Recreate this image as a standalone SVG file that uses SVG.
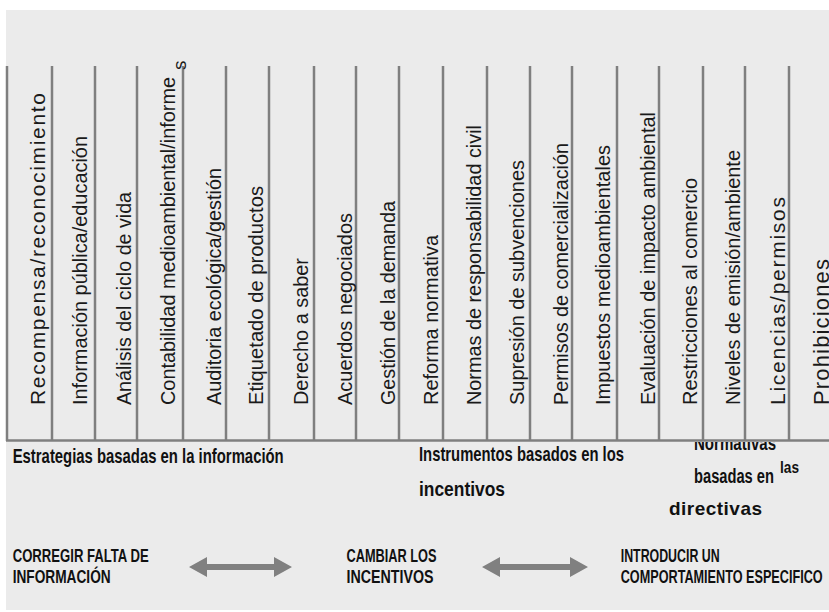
<svg xmlns="http://www.w3.org/2000/svg" width="829" height="612" viewBox="0 0 829 612">
<style>
.bg{fill:#ebebeb}
.col{stroke:#7f7f7f;stroke-width:2.5;fill:none}
.v{font-family:"Liberation Sans",Arial,sans-serif;font-size:21px;fill:#1a1a1a}
.b{font-family:"Liberation Sans",Arial,sans-serif;font-weight:bold;fill:#111}
.arr{fill:#808080}
</style>
<defs>
<clipPath id="below"><rect x="0" y="442" width="829" height="170"/></clipPath>
</defs>
<rect x="0" y="0" width="829" height="612" fill="#ffffff"/>
<rect class="bg" x="6" y="10" width="823" height="600"/>
<g id="grid">
<line class="col" x1="7" y1="66" x2="7" y2="441"/>
<line class="col" x1="52" y1="66" x2="52" y2="441"/>
<line class="col" x1="95" y1="66" x2="95" y2="441"/>
<line class="col" x1="137" y1="66" x2="137" y2="441"/>
<line class="col" x1="183" y1="66" x2="183" y2="441"/>
<line class="col" x1="226" y1="66" x2="226" y2="441"/>
<line class="col" x1="269" y1="66" x2="269" y2="441"/>
<line class="col" x1="314" y1="66" x2="314" y2="441"/>
<line class="col" x1="356" y1="66" x2="356" y2="441"/>
<line class="col" x1="399" y1="66" x2="399" y2="441"/>
<line class="col" x1="443" y1="66" x2="443" y2="441"/>
<line class="col" x1="487" y1="66" x2="487" y2="441"/>
<line class="col" x1="530" y1="66" x2="530" y2="441"/>
<line class="col" x1="572" y1="66" x2="572" y2="441"/>
<line class="col" x1="617" y1="66" x2="617" y2="441"/>
<line class="col" x1="659" y1="66" x2="659" y2="441"/>
<line class="col" x1="703" y1="66" x2="703" y2="441"/>
<line class="col" x1="745" y1="66" x2="745" y2="441"/>
<line class="col" x1="789" y1="66" x2="789" y2="441"/>
<line class="col" x1="6" y1="440.5" x2="829" y2="440.5"/>
</g>
<g id="columns">
<text class="v" transform="translate(45,405) rotate(-90)" textLength="312" lengthAdjust="spacing">Recompensa/reconocimiento</text>
<text class="v" transform="translate(87,405) rotate(-90)" textLength="269" lengthAdjust="spacingAndGlyphs">Información pública/educación</text>
<text class="v" transform="translate(131,405) rotate(-90)" textLength="213" lengthAdjust="spacingAndGlyphs">Análisis del ciclo de vida</text>
<text class="v" transform="translate(175,405) rotate(-90)" textLength="328" lengthAdjust="spacingAndGlyphs">Contabilidad medioambiental/informe</text>
<text class="v" transform="translate(186,70) rotate(-90)" style="font-size:19px">s</text>
<text class="v" transform="translate(221,405) rotate(-90)" textLength="237" lengthAdjust="spacingAndGlyphs">Auditoria ecológica/gestión</text>
<text class="v" transform="translate(263,405) rotate(-90)" textLength="219" lengthAdjust="spacingAndGlyphs">Etiquetado de productos</text>
<text class="v" transform="translate(308,405) rotate(-90)" textLength="147" lengthAdjust="spacingAndGlyphs">Derecho a saber</text>
<text class="v" transform="translate(352,405) rotate(-90)" textLength="192" lengthAdjust="spacingAndGlyphs">Acuerdos negociados</text>
<text class="v" transform="translate(395,405) rotate(-90)" textLength="204" lengthAdjust="spacingAndGlyphs">Gestión de la demanda</text>
<text class="v" transform="translate(438,405) rotate(-90)" textLength="170" lengthAdjust="spacingAndGlyphs">Reforma normativa</text>
<text class="v" transform="translate(481,405) rotate(-90)" textLength="280" lengthAdjust="spacingAndGlyphs">Normas de responsabilidad civil</text>
<text class="v" transform="translate(524,405) rotate(-90)" textLength="245" lengthAdjust="spacingAndGlyphs">Supresión de subvenciones</text>
<text class="v" transform="translate(568,405) rotate(-90)" textLength="262" lengthAdjust="spacingAndGlyphs">Permisos de comercialización</text>
<text class="v" transform="translate(610,405) rotate(-90)" textLength="260" lengthAdjust="spacingAndGlyphs">Impuestos medioambientales</text>
<text class="v" transform="translate(655,405) rotate(-90)" textLength="293" lengthAdjust="spacingAndGlyphs">Evaluación de impacto ambiental</text>
<text class="v" transform="translate(697,405) rotate(-90)" textLength="227" lengthAdjust="spacingAndGlyphs">Restricciones al comercio</text>
<text class="v" transform="translate(740,405) rotate(-90)" textLength="255" lengthAdjust="spacingAndGlyphs">Niveles de emisión/ambiente</text>
<text class="v" transform="translate(785,405) rotate(-90)" textLength="208" lengthAdjust="spacing">Licencias/permisos</text>
<text class="v" transform="translate(829,405) rotate(-90)" style="font-size:22px" textLength="146" lengthAdjust="spacing">Prohibiciones</text>
</g>
<g id="categories">
<text class="b" x="12.7" y="463" font-size="21" textLength="271" lengthAdjust="spacingAndGlyphs">Estrategias basadas en la información</text>
<text class="b" x="419" y="461" font-size="21" textLength="205" lengthAdjust="spacingAndGlyphs">Instrumentos basados en los</text>
<text class="b" x="419" y="496" font-size="21" textLength="86" lengthAdjust="spacingAndGlyphs">incentivos</text>
<text class="b" x="694" y="450" font-size="20" textLength="82" lengthAdjust="spacingAndGlyphs" clip-path="url(#below)">Normativas</text>
<text class="b" x="694" y="483" font-size="20" textLength="80" lengthAdjust="spacingAndGlyphs">basadas en</text>
<text class="b" x="780" y="473" font-size="17" textLength="19" lengthAdjust="spacingAndGlyphs">las</text>
<text class="b" x="669" y="515" font-size="19" textLength="93" lengthAdjust="spacing">directivas</text>
</g>
<g id="goals">
<text class="b" x="12.7" y="561.7" font-size="18" textLength="136" lengthAdjust="spacingAndGlyphs">CORREGIR FALTA DE</text>
<text class="b" x="12.7" y="583.3" font-size="18" textLength="98" lengthAdjust="spacingAndGlyphs">INFORMACIÓN</text>
<text class="b" x="346.5" y="561.7" font-size="18" textLength="90" lengthAdjust="spacingAndGlyphs">CAMBIAR LOS</text>
<text class="b" x="346.5" y="583.3" font-size="18" textLength="87" lengthAdjust="spacingAndGlyphs">INCENTIVOS</text>
<text class="b" x="620.7" y="561.7" font-size="18" textLength="99" lengthAdjust="spacingAndGlyphs">INTRODUCIR UN</text>
<text class="b" x="620.7" y="583.3" font-size="18" textLength="202" lengthAdjust="spacingAndGlyphs">COMPORTAMIENTO ESPECIFICO</text>
</g>
<g id="connectors">
<path class="arr" d="M189,567 L207,557 L207,564 L274,564 L274,557 L292,567 L274,577 L274,570 L207,570 L207,577 Z"/>
<path class="arr" d="M482,567 L500,557 L500,564 L570,564 L570,557 L588,567 L570,577 L570,570 L500,570 L500,577 Z"/>
</g>
</svg>
